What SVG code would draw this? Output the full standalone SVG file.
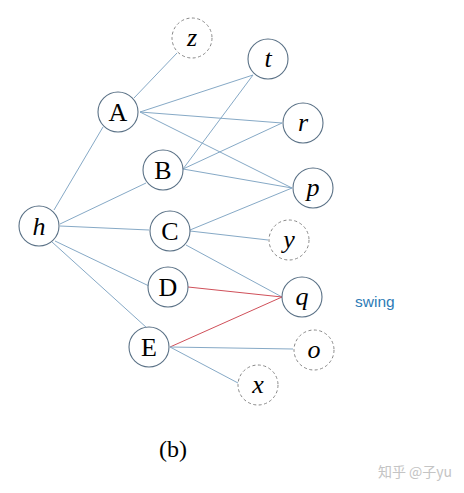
<svg xmlns="http://www.w3.org/2000/svg" width="464" height="493" viewBox="0 0 464 493">
<style>
.n{fill:#fff;stroke:#5a7186;stroke-width:1.1}
.d{fill:#fff;stroke:#888;stroke-width:1;stroke-dasharray:3,2.5}
.l{font-family:"Liberation Serif",serif;font-size:26px;fill:#000;text-anchor:middle}
.i{font-style:italic}
.e{stroke:#86a9c6;stroke-width:1;fill:none}
.red{stroke:#d0505a;stroke-width:1;fill:none}
</style>
<rect width="464" height="493" fill="#fff"/>
<g id="connectors">
<line class="e" x1="134" y1="98" x2="177" y2="53"/>
<line class="e" x1="54" y1="210" x2="103" y2="127"/>
<line class="e" x1="140" y1="112" x2="253" y2="75"/>
<line class="e" x1="140" y1="112" x2="282" y2="123"/>
<line class="e" x1="140" y1="112" x2="292" y2="188"/>
<line class="e" x1="183" y1="169" x2="253" y2="75"/>
<line class="e" x1="183" y1="169" x2="282" y2="123"/>
<line class="e" x1="183" y1="169" x2="292" y2="188"/>
<line class="e" x1="60" y1="224" x2="146" y2="183"/>
<line class="e" x1="60" y1="226" x2="149" y2="230"/>
<line class="e" x1="190" y1="230" x2="292" y2="188"/>
<line class="e" x1="190" y1="231" x2="268" y2="240"/>
<line class="e" x1="186" y1="245" x2="282" y2="297"/>
<line class="e" x1="55" y1="241" x2="149" y2="286"/>
<line class="e" x1="52" y1="242" x2="147" y2="328"/>
<line class="red" x1="188" y1="287" x2="282" y2="297"/>
<line class="red" x1="170" y1="347" x2="282" y2="297"/>
<line class="e" x1="170" y1="347" x2="293" y2="349"/>
<line class="e" x1="170" y1="347" x2="238" y2="383"/>
</g>
<g id="node-z"><circle class="d" cx="192" cy="38" r="20"/><text class="l i" x="192" y="46">z</text></g>
<g id="node-A"><circle class="n" cx="118" cy="112" r="20"/><text class="l" x="118" y="121">A</text></g>
<g id="node-t"><circle class="n" cx="268" cy="59" r="20"/><text class="l i" x="268" y="67">t</text></g>
<g id="node-r"><circle class="n" cx="303" cy="123" r="20"/><text class="l i" x="303" y="131">r</text></g>
<g id="node-B"><circle class="n" cx="163" cy="170" r="20"/><text class="l" x="163" y="179">B</text></g>
<g id="node-p"><circle class="n" cx="313" cy="188" r="20"/><text class="l i" x="313" y="196">p</text></g>
<g id="node-h"><circle class="n" cx="39" cy="226" r="20"/><text class="l i" x="39" y="235">h</text></g>
<g id="node-C"><circle class="n" cx="170" cy="231" r="20"/><text class="l" x="170" y="240">C</text></g>
<g id="node-y"><circle class="d" cx="289" cy="240" r="20"/><text class="l i" x="289" y="248">y</text></g>
<g id="node-D"><circle class="n" cx="168" cy="287" r="20"/><text class="l" x="168" y="296">D</text></g>
<g id="node-q"><circle class="n" cx="302" cy="297" r="20"/><text class="l i" x="302" y="305">q</text></g>
<g id="node-E"><circle class="n" cx="149" cy="347" r="20"/><text class="l" x="149" y="356">E</text></g>
<g id="node-o"><circle class="d" cx="314" cy="350" r="20"/><text class="l i" x="314" y="358">o</text></g>
<g id="node-x"><circle class="d" cx="258" cy="385" r="20"/><text class="l i" x="258" y="393">x</text></g>
<text x="355" y="307" font-family="Liberation Sans, sans-serif" font-size="15.5" fill="#2d7bb6">swing</text>
<text x="173" y="457" font-family="Liberation Serif, serif" font-size="24" fill="#000" text-anchor="middle">(b)</text>
<text x="415" y="477" font-family="Noto Sans CJK SC, sans-serif" font-size="14" fill="#c4c4c4" text-anchor="middle">知乎 @子yu</text>
</svg>
